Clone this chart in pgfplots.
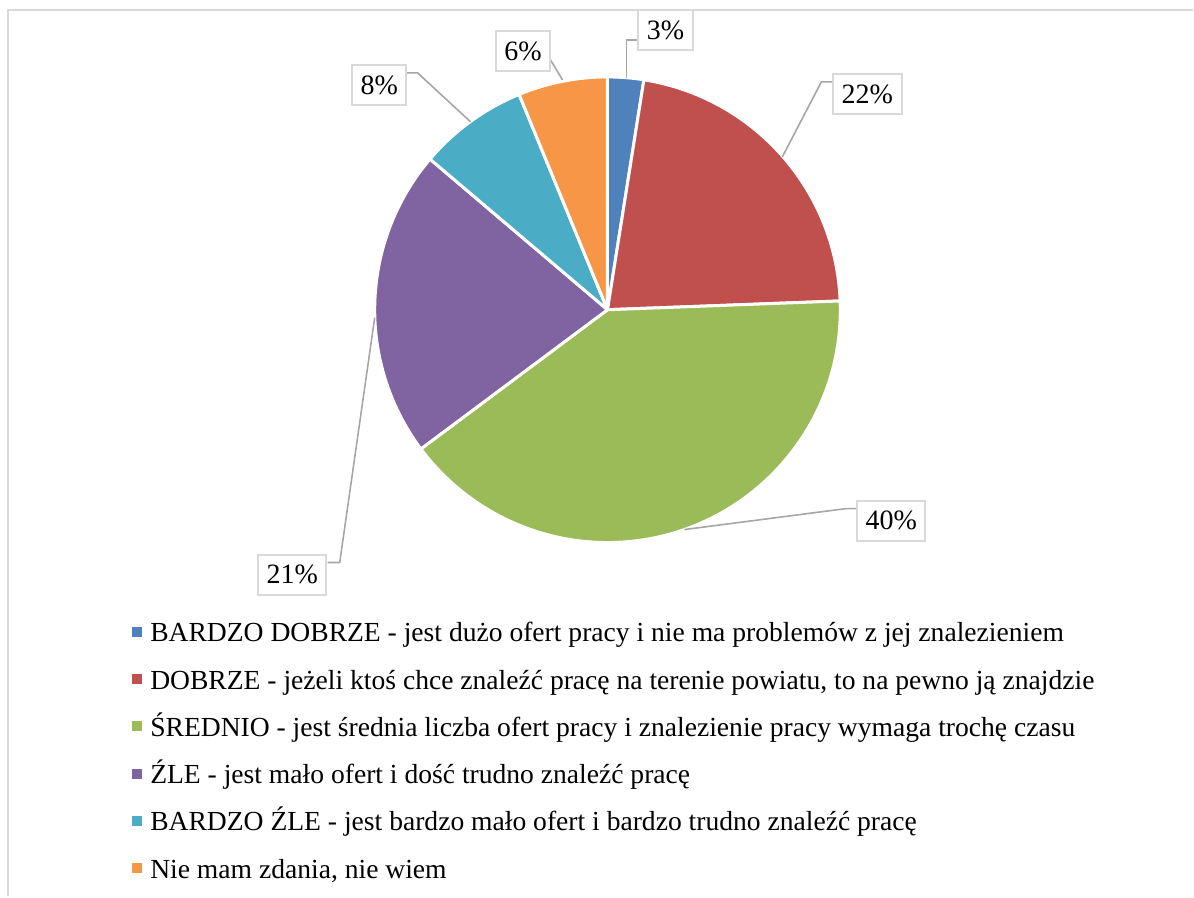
\documentclass[border=0pt]{standalone}
\usepackage{pgfplots}
\pgfplotsset{compat=1.18}
\usepackage{pgfplotstable}
\usepackage{fontspec}
\setmainfont{Liberation Serif}

\definecolor{c1}{HTML}{4F81BD}
\definecolor{c2}{HTML}{C0504D}
\definecolor{c3}{HTML}{9BBB59}
\definecolor{c4}{HTML}{8064A2}
\definecolor{c5}{HTML}{4BACC6}
\definecolor{c6}{HTML}{F79646}
\definecolor{framegray}{HTML}{D9D9D9}
\definecolor{leadgray}{HTML}{A6A6A6}

% share of answers (percent), clockwise from 12 o'clock
\pgfplotstableread{
val  col
2.5  c1
21.9 c2
40.4 c3
21.4 c4
7.6  c5
6.2  c6
}\piedata

\begin{document}
\begin{tikzpicture}[
  lbl/.style={draw=framegray, line width=1pt, fill=white, font=\fontsize{14}{16}\selectfont,
    inner xsep=4.3pt, inner ysep=0pt, minimum height=20pt},
  lead/.style={leadgray, line width=0.8pt},
]
\begin{axis}[
  width=597pt, height=448.5pt, scale only axis,
  xmin=0, xmax=1194, ymin=0, ymax=897, y dir=reverse,
  hide axis, clip=false,
  legend style={at={(axis cs:132,622)}, anchor=north west, draw=none, fill=none,
    inner sep=0pt, font=\fontsize{13.8}{16}\selectfont, row sep=10.65pt,
    nodes={inner sep=0pt, text height=10pt, text depth=3pt},
    /tikz/every odd column/.style={column sep=4pt}},
  legend cell align=left,
  legend image code/.code={\fill[#1] (0pt,-1pt) rectangle (5pt,4pt);},
]
\path (axis cs:0,0) rectangle (axis cs:1194,897);
\draw[framegray, line width=1pt] (axis cs:8,897) -- (axis cs:8,10) -- (axis cs:1194,10);

\pgfplotstablegetrowsof{\piedata}
\pgfmathtruncatemacro\nslices{\pgfplotsretval-1}
\def\cum{0}
\pgfplotsforeachungrouped \i in {0,...,\nslices}{%
  \pgfplotstablegetelem{\i}{val}\of\piedata \let\sval\pgfplotsretval
  \pgfplotstablegetelem{\i}{col}\of\piedata \let\scol\pgfplotsretval
  \pgfmathsetmacro\sa{90-3.6*\cum}
  \pgfmathsetmacro\cum{\cum+\sval}
  \pgfmathsetmacro\sb{90-3.6*\cum}
  \edef\temp{\noexpand\fill[\scol, draw=white, line width=1.5pt, line join=round]
    (axis cs:608,310) -- ++(\sa:116.5pt) arc[start angle=\sa, end angle=\sb, radius=116.5pt] -- cycle;}
  \temp
}

% leader lines and data labels
\draw[lead] (axis cs:627,78) -- (axis cs:627,40) -- (axis cs:639,40);
\draw[lead] (axis cs:783,157) -- (axis cs:822,82) -- (axis cs:833,82);
\draw[lead] (axis cs:685,530) -- (axis cs:847,509) -- (axis cs:857,509);
\draw[lead] (axis cs:375,318) -- (axis cs:340,563) -- (axis cs:328,563);
\draw[lead] (axis cs:471,122) -- (axis cs:418,73) -- (axis cs:407,73);
\draw[lead] (axis cs:563,80) -- (axis cs:551,60);

\node[lbl] at (axis cs:666,30) {3\%};
\node[lbl] at (axis cs:868,94) {22\%};
\node[lbl] at (axis cs:892,521) {40\%};
\node[lbl] at (axis cs:292.5,575) {21\%};
\node[lbl] at (axis cs:379.5,85) {8\%};
\node[lbl] at (axis cs:523.5,51.5) {6\%};

\addlegendimage{fill=c1, draw=none}
\addlegendentry{BARDZO DOBRZE - jest dużo ofert pracy i nie ma problemów z jej znalezieniem}
\addlegendimage{fill=c2, draw=none}
\addlegendentry{DOBRZE - jeżeli ktoś chce znaleźć pracę na terenie powiatu, to na pewno ją znajdzie}
\addlegendimage{fill=c3, draw=none}
\addlegendentry{ŚREDNIO - jest średnia liczba ofert pracy i znalezienie pracy wymaga trochę czasu}
\addlegendimage{fill=c4, draw=none}
\addlegendentry{ŹLE - jest mało ofert i dość trudno znaleźć pracę}
\addlegendimage{fill=c5, draw=none}
\addlegendentry{BARDZO ŹLE - jest bardzo mało ofert i bardzo trudno znaleźć pracę}
\addlegendimage{fill=c6, draw=none}
\addlegendentry{Nie mam zdania, nie wiem}
\end{axis}
\end{tikzpicture}
\end{document}
